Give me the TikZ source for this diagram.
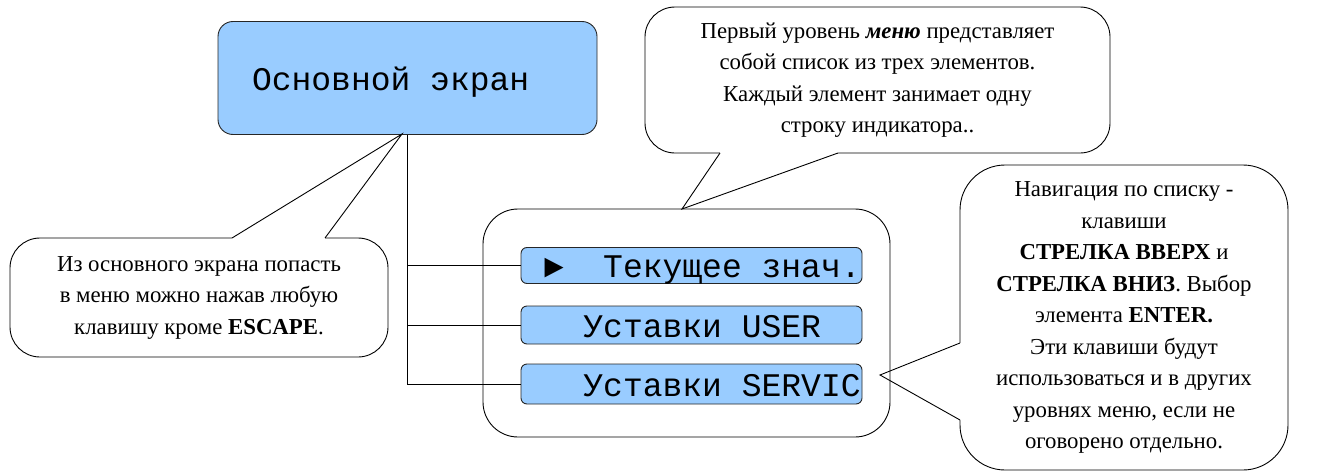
\documentclass[tikz,border=0pt]{standalone}
\usepackage{fontspec}
\setmainfont{Liberation Serif}
\setmonofont{Liberation Mono}
\usetikzlibrary{calc}
\definecolor{lcdblue}{HTML}{99CCFF}

\begin{document}
\begin{tikzpicture}[x=1pt,y=-1pt,line width=0.9pt,
  screen/.style={draw=black!85,fill=lcdblue,rounded corners=#1,inner sep=0pt,
    text height=24pt,text depth=0pt,font=\fontsize{33}{36}\ttfamily},
  note/.style={draw,fill=white,rounded corners=30pt,align=center,inner sep=0pt,
    font=\fontsize{22.8}{31.5}\selectfont}]
\useasboundingbox (0,0) rectangle (1333,471);
\node[screen=15pt,minimum width=379pt,minimum height=113pt] (main) at (407.5,78) {\makebox[311pt][l]{Основной экран}};
\node[draw,rounded corners=35pt,minimum width=407pt,minimum height=228pt] (menu) at (686.5,323) {};
\node[screen=6pt,minimum width=341pt,minimum height=36pt] (cur) at (691.5,265.5) {\makebox[335pt][l]{\ ►\ \ Текущее~знач.}};
\node[screen=6pt,minimum width=341pt,minimum height=38pt] (user) at (691.5,325) {\makebox[335pt][l]{\ \ \ Уставки~USER}};
\node[screen=6pt,minimum width=341pt,minimum height=40pt] (serv) at (691.5,384) {\makebox[335pt][l]{\ \ \ Уставки~SERVIC}};
\draw (main.south) -- (main.south |- serv.west) -- (serv.west);
\draw (main.south |- cur.west) -- (cur.west);
\draw (main.south |- user.west) -- (user.west);
\node[note,minimum width=465pt,minimum height=146pt] (noteT) at (877.5,80) {Первый уровень \textbf{\textit{меню}} представляет\\
  собой список из трех элементов.\\ Каждый элемент занимает одну\\ строку индикатора..};
\node[note,minimum width=378pt,minimum height=119pt] (noteL) at (199,297.5) {Из основного экрана попасть\\
  в меню можно нажав любую\\ клавишу кроме \textbf{ESCAPE}.};
\node[note,rounded corners=45pt,minimum width=328pt,minimum height=305pt] (noteR) at (1124,317.5) {Навигация по списку -\\
  клавиши\\ \textbf{СТРЕЛКА ВВЕРХ} и\\ \textbf{СТРЕЛКА ВНИЗ}. Выбор\\ элемента \textbf{ENTER.}\\
  Эти клавиши будут\\ использоваться и в других\\ уровнях меню, если не\\ оговорено отдельно.};
\coordinate (tipT) at (682,209);
\coordinate (t1) at (720,153);
\coordinate (t2) at (838,153);
\coordinate (tipL) at (402,134);
\coordinate (l1) at (232,238);
\coordinate (l2) at (325,238);
\coordinate (tipR) at (880,375);
\coordinate (r1) at (960,343);
\coordinate (r2) at (960,420);
\fill[white] ($(t1)+(0,-1.5)$) -- (t1) -- ($(t1)!.2!(tipT)$) -- ($(t2)!.2!(tipT)$) -- (t2) -- ($(t2)+(0,-1.5)$) -- cycle;
\draw (t1) -- (tipT) -- (t2);
\fill[white] ($(l1)+(0,1.5)$) -- (l1) -- ($(l1)!.2!(tipL)$) -- ($(l2)!.2!(tipL)$) -- (l2) -- ($(l2)+(0,1.5)$) -- cycle;
\draw (l1) -- (tipL) -- (l2);
\fill[white] ($(r1)+(1.5,0)$) -- (r1) -- ($(r1)!.2!(tipR)$) -- ($(r2)!.2!(tipR)$) -- (r2) -- ($(r2)+(1.5,0)$) -- cycle;
\draw (r1) -- (tipR) -- (r2);
\end{tikzpicture}
\end{document}
